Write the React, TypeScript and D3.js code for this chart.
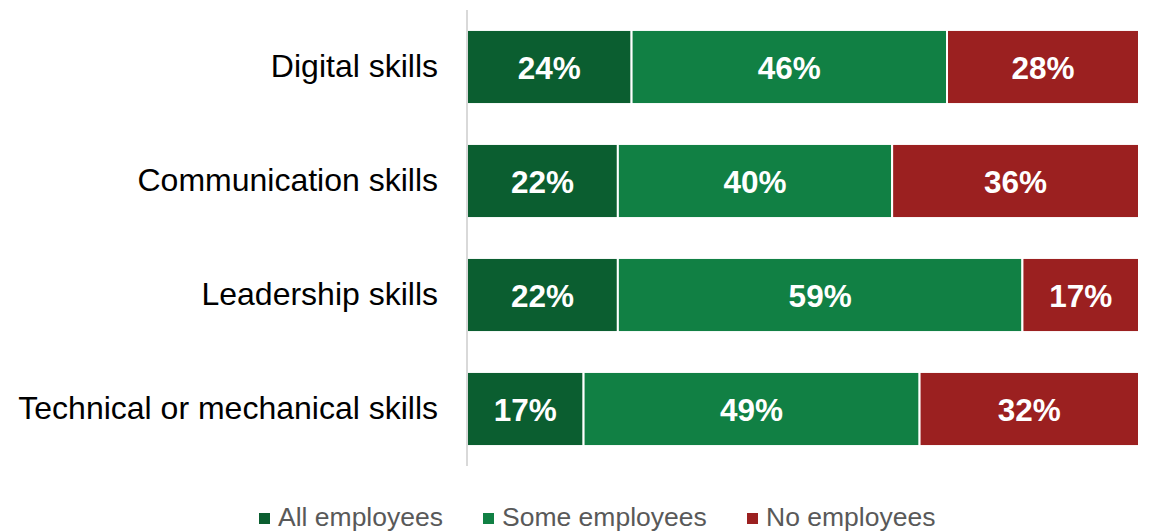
import React from "react";
import * as d3 from "d3";

const categories = ["Digital skills", "Communication skills", "Leadership skills", "Technical or mechanical skills"];
const allEmployees = [24, 22, 22, 17];
const someEmployees = [46, 40, 59, 49];
const noEmployees = [28, 36, 17, 32];
const seriesNames = ["All employees", "Some employees", "No employees"];
const seriesColors = ["#0b5e30", "#118044", "#9b2020"];

const W = 1150, H = 532;
const left = 467, right = 1139, top = 10, bottom = 466;

export default function App() {
  const rows = categories.map((c, i) => ({
    cat: c,
    all: allEmployees[i],
    some: someEmployees[i],
    no: noEmployees[i],
  }));
  const keys = ["all", "some", "no"];
  const stack = d3.stack<any>().keys(keys);
  const series = stack(rows);
  const maxTotal = d3.max(rows, (r) => r.all + r.some + r.no) as number;
  const x = d3.scaleLinear().domain([0, maxTotal]).range([left, right]);
  const y = d3.scaleBand().domain(categories).range([top, bottom]).paddingInner(0.35).paddingOuter(0.175);
  const font = "'Liberation Sans', Arial, sans-serif";

  const legendX = [259, 483, 747];

  return (
    <svg width={W} height={H} style={{ position: "absolute", left: 0, top: 0, display: "block" }} fontFamily={font}>
      <rect width={W} height={H} fill="#ffffff" />
      {series.map((s, si) =>
        s.map((d, i) => {
          const x0 = x(d[0]);
          const x1 = x(d[1]);
          const yy = y(categories[i]) as number;
          const val = d[1] - d[0];
          return (
            <g key={si + "-" + i}>
              <rect x={x0} y={yy} width={x1 - x0} height={y.bandwidth()} fill={seriesColors[si]} stroke="#ffffff" strokeWidth={2} />
              <text x={(x0 + x1) / 2} y={yy + y.bandwidth() / 2} dy="0.37em" textAnchor="middle" fill="#ffffff" fontWeight="bold" fontSize={31.5}>
                {val}%
              </text>
            </g>
          );
        })
      )}
      <line x1={left} x2={left} y1={top} y2={bottom} stroke="#d9d9d9" strokeWidth={2} />
      {categories.map((c) => (
        <text key={c} x={left - 29} y={(y(c) as number) + y.bandwidth() / 2} dy="0.3em" textAnchor="end" fontSize={32} fill="#000000">
          {c}
        </text>
      ))}
      {seriesNames.map((n, i) => (
        <g key={n}>
          <rect x={legendX[i]} y={513} width={11} height={11} fill={seriesColors[i]} />
          <text x={legendX[i] + 19} y={525.5} fontSize={26.5} fill="#595959">
            {n}
          </text>
        </g>
      ))}
    </svg>
  );
}
